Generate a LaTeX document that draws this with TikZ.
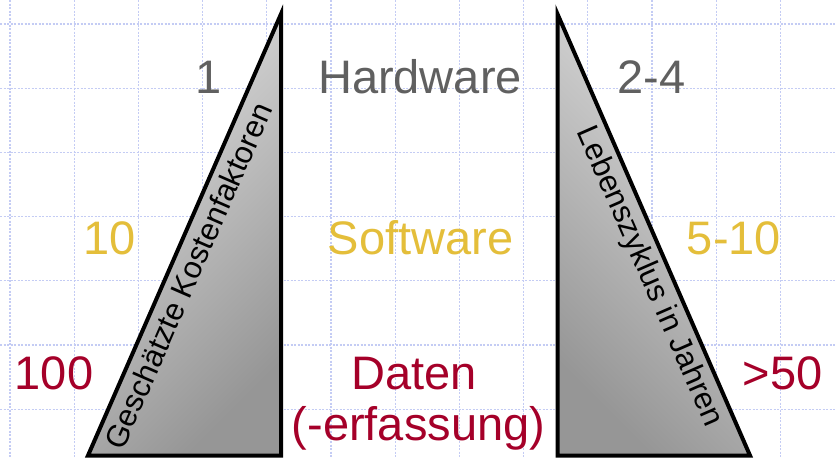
\documentclass[tikz,border=0pt]{standalone}
\usepackage{fontspec}
\setmainfont{Liberation Sans}
\definecolor{gridblue}{RGB}{196,204,244}
\definecolor{hwgray}{RGB}{96,96,96}
\definecolor{swyellow}{RGB}{228,190,58}
\definecolor{datred}{RGB}{165,0,41}
\definecolor{triLight}{RGB}{222,222,222}
\definecolor{triDark}{RGB}{150,150,150}
\tikzset{
  gridline/.style={draw=gridblue, line width=1.3pt, dash pattern=on 2.2pt off 1.3pt},
  wedge/.style={draw=black, line width=4pt, line join=miter, miter limit=20},
  bigtext/.style={inner sep=0pt, anchor=base, font=\fontsize{47}{52}\selectfont},
  sidetext/.style={inner sep=0pt, anchor=center, font=\fontsize{31}{36}\selectfont, text=black},
}
\begin{document}
\begin{tikzpicture}[x=1pt,y=-1pt]
  \useasboundingbox (0,0) rectangle (835,458);
  \fill[white] (0,0) rectangle (835,458);

  % background grid
  \foreach \i in {0,...,12}
    \draw[gridline] ({10+64.2*\i},0) -- ({10+64.2*\i},458);
  \foreach \j in {0,...,6}
    \draw[gridline] (0,{24+64.2*\j}) -- (835,{24+64.2*\j});

  % left wedge: cost factors
  \coordinate (la) at (281,14);
  \coordinate (lb) at (281,455.5);
  \coordinate (lc) at (88,455.5);
  \shade[top color=triLight, bottom color=triDark, shading angle=45]
    (la) -- (lb) -- (lc) -- cycle;
  \draw[wedge] (la) -- (lb) -- (lc) -- cycle;

  % right wedge: life cycle
  \coordinate (ra) at (557.5,14);
  \coordinate (rb) at (557.5,455.5);
  \coordinate (rc) at (750,455.5);
  \shade[top color=triLight, bottom color=triDark, shading angle=-45]
    (ra) -- (rb) -- (rc) -- cycle;
  \draw[wedge] (ra) -- (rb) -- (rc) -- cycle;

  % wedge captions
  \node[sidetext, rotate=66.4] (kosten) at (188,276) {Geschätzte Kostenfaktoren};
  \node[sidetext, rotate=-66.4] (leben) at (649,277) {Lebenszyklus in Jahren};

  % hardware row
  \node[bigtext, text=hwgray] (hwc) at (209,93) {1};
  \node[bigtext, text=hwgray] (hw) at (420,93) {Hardware};
  \node[bigtext, text=hwgray] (hwl) at (651.5,93) {2-4};

  % software row
  \node[bigtext, text=swyellow] (swc) at (110,254) {10};
  \node[bigtext, text=swyellow] (sw) at (420.5,254) {Software};
  \node[bigtext, text=swyellow] (swl) at (734,254) {5-10};

  % data row
  \node[bigtext, text=datred] (dac) at (54,389) {100};
  \node[bigtext, text=datred] (da) at (414,389) {Daten};
  \node[bigtext, text=datred] (daf) at (418.5,440) {(-erfassung)};
  \node[bigtext, text=datred] (dal) at (782.5,389) {>50};
\end{tikzpicture}
\end{document}
